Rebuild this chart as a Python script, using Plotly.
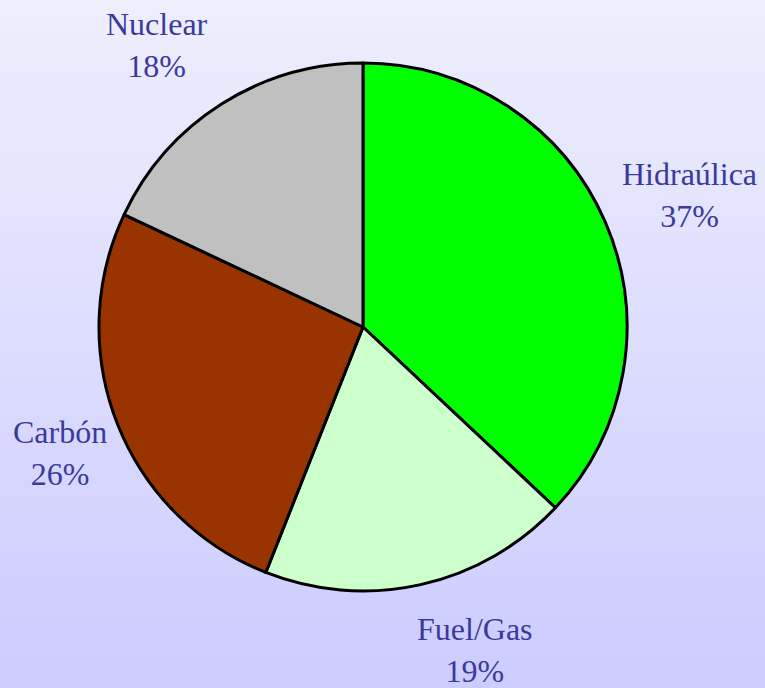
import math
import plotly.graph_objects as go

# ---- data ----
categories = ["Hidraúlica", "Fuel/Gas", "Carbón", "Nuclear"]
shares = [37, 19, 26, 18]
colors = ["#00ff00", "#ccffcc", "#993300", "#c0c0c0"]

# ---- layout constants ----
W, H = 765, 688
CX, CY, R = 363, 327, 264          # pie centre / radius in pixels
LABEL_K = 1.3                       # label distance (in radii)
LABEL_NUDGE = [(12, 4), (37, -12), (16, 0), (-22, 8)]  # pixel nudges
TEXT_COLOR = "#3a3a9c"
FONT = "Liberation Serif, Times New Roman, serif"

fig = go.Figure()
fig.add_trace(go.Pie(
    labels=categories,
    values=shares,
    sort=False,
    direction="clockwise",
    rotation=0,
    marker=dict(colors=colors, line=dict(color="black", width=3)),
    textinfo="none",
    hoverinfo="label+percent",
    showlegend=False,
    domain=dict(x=[(CX - R) / W, (CX + R) / W],
                y=[1 - (CY + R) / H, 1 - (CY - R) / H]),
))

# labels positioned from the slice mid-angles
total = sum(shares)
annotations = []
cum = 0
for cat, v, (nx, ny) in zip(categories, shares, LABEL_NUDGE):
    mid = (cum + v / 2) / total * 2 * math.pi
    cum += v
    px = CX + LABEL_K * R * math.sin(mid) + nx
    py = CY - LABEL_K * R * math.cos(mid) + ny
    pct = round(v / total * 100)
    annotations.append(dict(
        x=px / W, y=1 - py / H, xref="paper", yref="paper",
        text=f"{cat}<br>{pct}%", showarrow=False,
        xanchor="center", yanchor="middle", align="center",
        font=dict(family=FONT, size=32, color=TEXT_COLOR),
    ))

# vertical gradient background
shapes = []
N = 86
top = (238, 238, 253)
bot = (204, 204, 255)
for i in range(N):
    t = i / (N - 1)
    c = tuple(round(top[j] + (bot[j] - top[j]) * t) for j in range(3))
    shapes.append(dict(
        type="rect", xref="paper", yref="paper",
        x0=0, x1=1, y0=1 - (i + 1) / N - 0.002, y1=1 - i / N,
        fillcolor=f"rgb{c}", line=dict(width=0), layer="below",
    ))

fig.update_layout(
    width=W, height=H,
    margin=dict(l=0, r=0, t=0, b=0),
    paper_bgcolor="#dcdcfd",
    plot_bgcolor="rgba(0,0,0,0)",
    annotations=annotations,
    shapes=shapes,
)

fig.write_html(
    "out.html",
    config={"displayModeBar": False},
    post_script="document.body.style.margin='0';document.body.style.padding='0';"
                "document.body.style.overflow='hidden';",
)
